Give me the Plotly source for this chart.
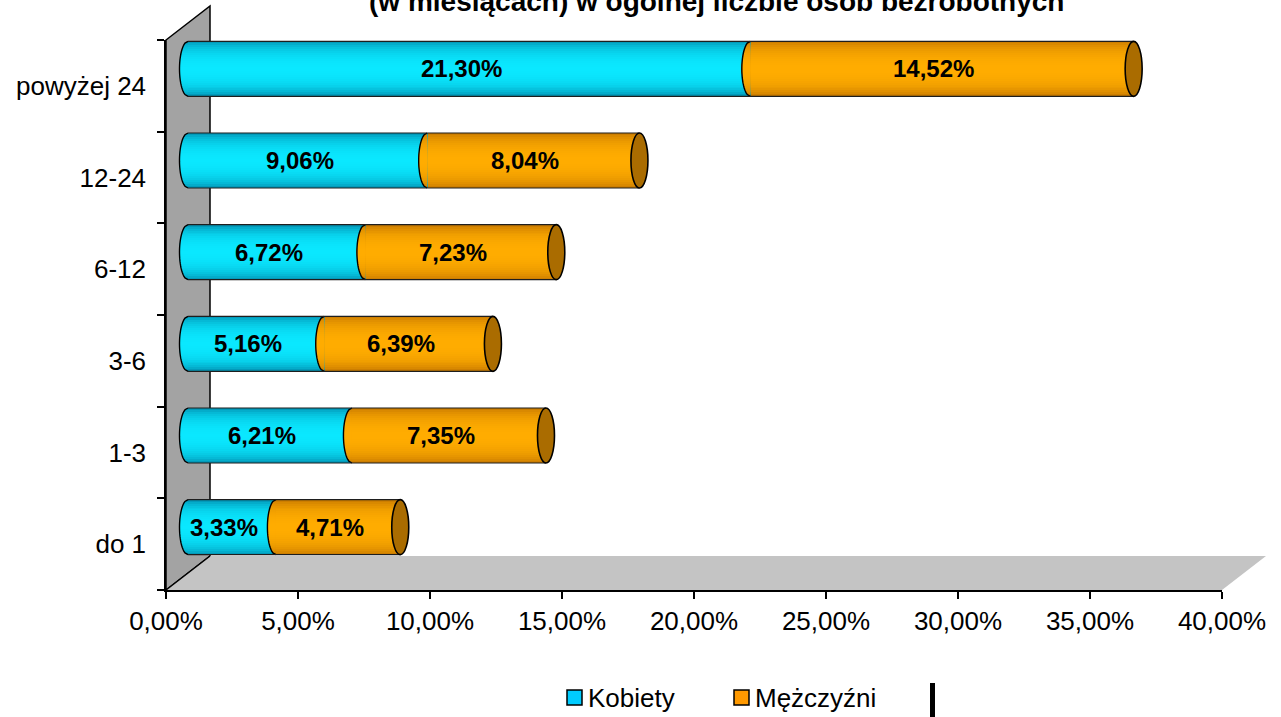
import numpy as np
import plotly.graph_objects as go

# ---------------- data ----------------
categories = ["do 1", "1-3", "3-6", "6-12", "12-24", "powyżej 24"]
kobiety = [3.33, 6.21, 5.16, 6.72, 9.06, 21.30]
mezczyzni = [4.71, 7.35, 6.39, 7.23, 8.04, 14.52]
x_tick_values = [0, 5, 10, 15, 20, 25, 30, 35, 40]
x_tick_labels = ["0,00%", "5,00%", "10,00%", "15,00%", "20,00%", "25,00%", "30,00%", "35,00%", "40,00%"]
series_names = ["Kobiety", "Mężczyźni"]
title_text = "(w miesiącach) w ogólnej liczbie osób bezrobotnych"

# ---------------- geometry / style ----------------
W, H = 1281, 717
AX_L, AX_R = 166, 1222          # pixel extent of value axis
AX_T, AX_B = 40, 590            # pixel extent of category axis
DEPTH_X, DEPTH_Y = 44, 34       # 3-D depth of walls
OFF_X, OFF_Y = DEPTH_X / 2, DEPTH_Y / 2
XMAX = 40.0
XMIN2 = -1.0                     # extra room on the bar axis for the left caps
PX_PER_X = (AX_R - AX_L) / XMAX
R = 0.30                         # half bar height (category units)
RX = 8.5 / PX_PER_X              # cap ellipse half width (value units)
FONT = "Liberation Sans, Arial, sans-serif"
AXIS_FONT_SIZE = 26

BLUE_LIGHT, BLUE_DARK = np.array([10, 232, 255]), np.array([0, 130, 165])
ORG_LIGHT, ORG_DARK = np.array([255, 172, 0]), np.array([190, 112, 0])
CAP_COLOR = "rgb(170,108,0)"
N_STRIPS = 14


def px(x):
    return x / W


def py(y):
    return 1 - y / H


def mix(light, dark, s):
    f = np.sqrt(max(0.0, 1 - s ** 2)) ** 1.1
    c = dark + (light - dark) * f
    return "rgb(%d,%d,%d)" % tuple(int(round(v)) for v in c)


strip_h = [R * (1 - i / N_STRIPS) for i in range(N_STRIPS)]
strip_s = [(1 - i / N_STRIPS) - 0.5 / N_STRIPS for i in range(N_STRIPS)]

fig = go.Figure()
ypos = list(range(len(categories)))
totals = [k + m for k, m in zip(kobiety, mezczyzni)]

# invisible trace so the labelled (back) axes get drawn
fig.add_trace(go.Scatter(x=totals, y=ypos, mode="markers", marker=dict(opacity=0),
                         showlegend=False, hoverinfo="skip"))

# body strips (gradient cylinders)
for light, dark, vals, base in [
    (BLUE_LIGHT, BLUE_DARK, kobiety, [0] * len(kobiety)),
    (ORG_LIGHT, ORG_DARK, mezczyzni, kobiety),
]:
    for h, s in zip(strip_h, strip_s):
        fig.add_trace(go.Bar(
            x=vals, y=ypos, base=base, orientation="h", width=2 * h,
            marker=dict(color=mix(light, dark, s), line=dict(width=0)),
            xaxis="x2", yaxis="y2", showlegend=False, hoverinfo="skip",
        ))

shapes = []
# walls & floor (decoration)
shapes.append(dict(type="path", xref="paper", yref="paper", layer="below",
                   path="M %f,%f L %f,%f L %f,%f L %f,%f Z" % (
                       px(AX_L), py(AX_T), px(AX_L + DEPTH_X), py(AX_T - DEPTH_Y),
                       px(AX_L + DEPTH_X), py(AX_B - DEPTH_Y), px(AX_L), py(AX_B)),
                   fillcolor="#A3A3A3", line=dict(color="black", width=1.5)))
shapes.append(dict(type="path", xref="paper", yref="paper", layer="below",
                   path="M %f,%f L %f,%f L %f,%f L %f,%f Z" % (
                       px(AX_L), py(AX_B), px(AX_L + DEPTH_X), py(AX_B - DEPTH_Y),
                       px(AX_R + DEPTH_X), py(AX_B - DEPTH_Y), px(AX_R), py(AX_B)),
                   fillcolor="#C4C4C4", line=dict(width=0)))
shapes.append(dict(type="line", xref="paper", yref="paper", layer="below",
                   x0=px(AX_L), y0=py(AX_B), x1=px(AX_L + DEPTH_X), y1=py(AX_B - DEPTH_Y),
                   line=dict(color="black", width=1.5)))


def left_cap_path(a, c, h, n=24):
    ts = np.linspace(-h, h, n)
    pts = [(a - RX * np.sqrt(max(0.0, 1 - (t / R) ** 2)), c + t) for t in ts]
    d = "M %f,%f " % (a, c - h)
    d += " ".join("L %f,%f" % p for p in pts)
    d += " L %f,%f Z" % (a, c + h)
    return d


def arc_path(a, c, n=32):
    ts = np.linspace(-R, R, n)
    pts = [(a - RX * np.sqrt(max(0.0, 1 - (t / R) ** 2)), c + t) for t in ts]
    return "M " + " L ".join("%f,%f" % p for p in pts)


for i, (k, m, T) in enumerate(zip(kobiety, mezczyzni, totals)):
    for light, dark, a in [(BLUE_LIGHT, BLUE_DARK, 0.0), (ORG_LIGHT, ORG_DARK, k)]:
        for h, s in zip(strip_h, strip_s):
            shapes.append(dict(type="path", xref="x2", yref="y2",
                               path=left_cap_path(a, i, h),
                               fillcolor=mix(light, dark, s), line=dict(width=0)))
    # outlines
    shapes.append(dict(type="path", xref="x2", yref="y2", path=arc_path(0.0, i),
                       line=dict(color="black", width=1.4)))
    shapes.append(dict(type="path", xref="x2", yref="y2", path=arc_path(k, i),
                       line=dict(color="black", width=1.4)))
    shapes.append(dict(type="line", xref="x2", yref="y2", x0=0, x1=T, y0=i + R, y1=i + R,
                       line=dict(color="rgb(30,30,30)", width=1.2)))
    shapes.append(dict(type="line", xref="x2", yref="y2", x0=0, x1=T, y0=i - R, y1=i - R,
                       line=dict(color="rgb(30,30,30)", width=1.2)))
    shapes.append(dict(type="circle", xref="x2", yref="y2", x0=T - RX, x1=T + RX,
                       y0=i - R, y1=i + R, fillcolor=CAP_COLOR,
                       line=dict(color="black", width=1.6)))

# legend (manual)
legend_items = [(567, "#00CCFF", series_names[0]), (734, "#FF9900", series_names[1])]
annotations = []
for x0, col, name in legend_items:
    shapes.append(dict(type="rect", xref="paper", yref="paper",
                       x0=px(x0), x1=px(x0 + 15), y0=py(705), y1=py(690),
                       fillcolor=col, line=dict(color="black", width=1.5)))
    annotations.append(dict(x=px(x0 + 19), y=py(698), xref="paper", yref="paper",
                            text=name, showarrow=False, xanchor="left", yanchor="middle",
                            font=dict(family=FONT, size=AXIS_FONT_SIZE, color="black")))
shapes.append(dict(type="rect", xref="paper", yref="paper",
                   x0=px(930), x1=px(935), y0=py(717), y1=py(683),
                   fillcolor="black", line=dict(width=0)))

# value labels
for i, (k, m) in enumerate(zip(kobiety, mezczyzni)):
    for xc, v in [(k / 2, k), (k + m / 2, m)]:
        annotations.append(dict(x=xc, y=i, xref="x2", yref="y2", xshift=-8,
                                text=("%.2f" % v).replace(".", ",") + "%",
                                showarrow=False, xanchor="center", yanchor="middle",
                                font=dict(family=FONT, size=24, color="black", weight="bold")))

# title (cut off at the top, as in the reference)
annotations.append(dict(x=px(717), y=py(19), xref="paper", yref="paper", text=title_text,
                        showarrow=False, xanchor="center", yanchor="bottom",
                        font=dict(family=FONT, size=28, color="black", weight="bold")))

fig.update_layout(
    width=W, height=H,
    margin=dict(l=0, r=0, t=0, b=0, autoexpand=False),
    paper_bgcolor="white", plot_bgcolor="rgba(0,0,0,0)",
    barmode="overlay", bargap=0,
    showlegend=False,
    xaxis=dict(domain=[px(AX_L), px(AX_R)], range=[0, XMAX], anchor="y", automargin=False,
               tickvals=x_tick_values, ticktext=x_tick_labels,
               ticks="outside", ticklen=7, tickwidth=1.5, tickcolor="black",
               showline=True, linecolor="black", linewidth=1.5,
               showgrid=False, zeroline=False, ticklabelstandoff=0,
               tickfont=dict(family=FONT, size=AXIS_FONT_SIZE, color="black"), fixedrange=True),
    yaxis=dict(domain=[py(AX_B), py(AX_T)], range=[-0.5, len(categories) - 0.5], anchor="x",
               automargin=False,
               tickvals=ypos, ticktext=categories, ticks="",
               minor=dict(tickvals=[j - 0.5 for j in range(len(categories) + 1)],
                          ticks="outside", ticklen=7, tickwidth=1.5, tickcolor="black"),
               showline=True, linecolor="black", linewidth=1.5,
               showgrid=False, zeroline=False, ticklabelstandoff=13,
               tickfont=dict(family=FONT, size=AXIS_FONT_SIZE, color="black"), fixedrange=True),
    xaxis2=dict(domain=[px(AX_L + OFF_X + XMIN2 * PX_PER_X), px(AX_R + OFF_X)],
                range=[XMIN2, XMAX], anchor="y2", visible=False, fixedrange=True,
                automargin=False),
    yaxis2=dict(domain=[py(AX_B - OFF_Y), py(AX_T - OFF_Y)], range=[-0.5, len(categories) - 0.5],
                anchor="x2", visible=False, fixedrange=True, automargin=False),
    shapes=shapes,
    annotations=annotations,
)

fig.write_html("out.html", config={"displayModeBar": False},
               post_script="document.body.style.margin='0';")
